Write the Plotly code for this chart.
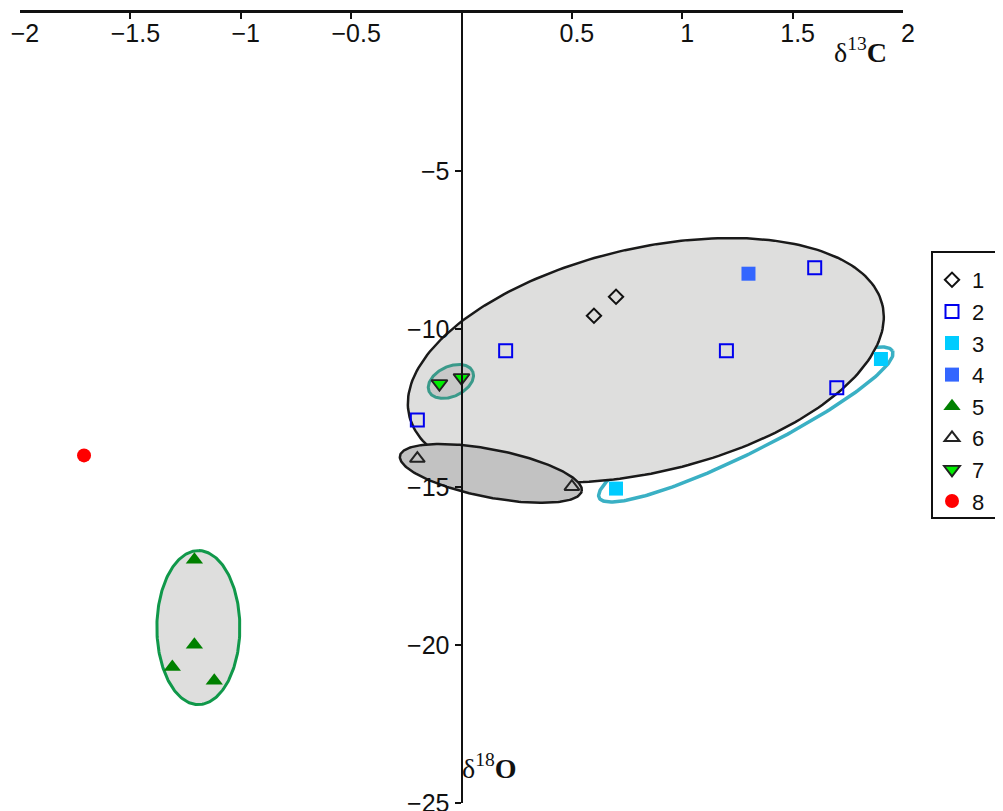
import numpy as np
import plotly.graph_objects as go

# ---- data (δ13C, δ18O) ----
s1_x = [0.60, 0.70]
s1_y = [-9.58, -8.98]
s2_x = [0.20, -0.20, 1.20, 1.60, 1.70]
s2_y = [-10.69, -12.88, -10.69, -8.06, -11.86]
s3_x = [1.90, 0.70]
s3_y = [-10.95, -15.05]
s4_x = [1.30]
s4_y = [-8.25]
s5_x = [-1.21, -1.21, -1.31, -1.12]
s5_y = [-17.30, -19.99, -20.70, -21.13]
s6_x = [-0.20, 0.50]
s6_y = [-14.10, -14.99]
s7_x = [-0.10, 0.00]
s7_y = [-11.73, -11.54]
s8_x = [-1.71]
s8_y = [-14.00]

x_ticks = [-2, -1.5, -1, -0.5, 0.5, 1, 1.5, 2]
y_ticks = [-5, -10, -15, -20, -25]

# ellipse groups: centre (data), semi-axes (screen px), rotation (deg); drawn in order
ell_cx = [1.288, 0.835, 0.133, -0.048, -1.192]
ell_cy = [-13.02, -10.99, -14.57, -11.66, -19.45]
ell_a = [164, 243, 92.6, 24, 77]
ell_b = [28, 112, 24, 15, 41.5]
ell_ang = [26.6, 13.15, -11.0, 25.0, 90.0]
ell_fill = ["rgba(0,0,0,0)", "#dededd", "#c2c2c2", "#c8c8c8", "#dededd"]
ell_line = ["#3ab0c4", "#1a1a1a", "#1a1a1a", "#3a9a8a", "#10984a"]
ell_lw = [3.5, 2.5, 2.5, 3, 3]

W, H = 1003, 811
OFF = 8  # page body offset
ml, mt = 20 - OFF, 13 - OFF
pw, ph = 883, 790
mr, mb = W - ml - pw, H - mt - ph
sx = pw / 4.0
sy = ph / 25.0


def px2paper_x(px):
    return (px - OFF - ml) / pw


def px2paper_y(py):
    return 1 - (py - OFF - mt) / ph


fig = go.Figure()

t = np.linspace(0, 2 * np.pi, 240)
for cx, cy, a, b, ang, fc, lc, lw in zip(ell_cx, ell_cy, ell_a, ell_b, ell_ang,
                                         ell_fill, ell_line, ell_lw):
    th = np.deg2rad(ang)
    u = a * np.cos(t) * np.cos(th) - b * np.sin(t) * np.sin(th)
    v = a * np.cos(t) * np.sin(th) + b * np.sin(t) * np.cos(th)
    fig.add_trace(go.Scatter(
        x=cx + u / sx, y=cy + v / sy, mode="lines",
        fill="toself" if fc != "rgba(0,0,0,0)" else None,
        fillcolor=fc, line=dict(color=lc, width=lw),
        showlegend=False, hoverinfo="skip"))

series = [
    ("1", s1_x, s1_y, dict(symbol="diamond-open", size=11, color="#111111", line=dict(width=2, color="#111111"))),
    ("2", s2_x, s2_y, dict(symbol="square-open", size=13, color="#0000ee", line=dict(width=2, color="#0000ee"))),
    ("3", s3_x, s3_y, dict(symbol="square", size=14, color="#00ccff")),
    ("4", s4_x, s4_y, dict(symbol="square", size=14, color="#3366ff")),
    ("5", s5_x, s5_y, dict(symbol="triangle-up", size=15, color="#008000")),
    ("6", s6_x, s6_y, dict(symbol="triangle-up-open", size=13, color="#222222", line=dict(width=2, color="#222222"))),
    ("7", s7_x, s7_y, dict(symbol="triangle-down", size=14, color="#00ee00", line=dict(width=1.8, color="#222222"))),
    ("8", s8_x, s8_y, dict(symbol="circle", size=14, color="#ff0000")),
]
for name, xs, ys, mk in series:
    fig.add_trace(go.Scatter(x=xs, y=ys, mode="markers", name=name, marker=mk))


def fmt(v):
    s = ("%g" % abs(v))
    return ("\u2212" + s) if v < 0 else s


tickfont = dict(family="Liberation Sans, Arial", size=25, color="#111111")
fig.update_layout(
    width=W, height=H,
    margin=dict(l=ml, r=mr, t=mt, b=mb, autoexpand=False),
    paper_bgcolor="white", plot_bgcolor="white",
    xaxis=dict(range=[-2, 2], side="top", showgrid=False, zeroline=False,
               showline=True, linecolor="#111111", linewidth=2.5,
               ticks="inside", ticklen=6, tickwidth=1.5, tickcolor="#111111",
               ticklabelposition="inside", ticklabeloverflow="allow",
               ticklabelstandoff=8, ticklabelshift=5,
               tickvals=x_ticks, ticktext=[fmt(v) for v in x_ticks],
               tickfont=tickfont, automargin=False),
    yaxis=dict(range=[-25, 0], anchor="free", position=0.5, showgrid=False,
               zeroline=False, showline=True, linecolor="#111111", linewidth=2,
               ticks="outside", ticklen=6, tickwidth=1.5, tickcolor="#111111",
               tickvals=y_ticks, ticktext=[fmt(v) for v in y_ticks],
               tickfont=tickfont, automargin=False),
    legend=dict(x=px2paper_x(932), y=px2paper_y(259), xanchor="left", yanchor="top",
                borderwidth=0, bgcolor="rgba(0,0,0,0)",
                font=dict(family="Liberation Sans, Arial", size=22, color="#111111"),
                itemwidth=30, tracegroupgap=0),
    shapes=[
        dict(type="rect", xref="paper", yref="paper",
             x0=px2paper_x(932), x1=px2paper_x(1012),
             y0=px2paper_y(518), y1=px2paper_y(252),
             line=dict(color="#111111", width=2), fillcolor="rgba(0,0,0,0)", layer="above"),
    ],
    annotations=[
        dict(text="δ<sup>13</sup><b>C</b>", x=px2paper_x(860), y=px2paper_y(50),
             xref="paper", yref="paper", showarrow=False, xanchor="center", yanchor="middle",
             font=dict(family="Liberation Serif, Times New Roman", size=28, color="#111111")),
        dict(text="δ<sup>18</sup><b>O</b>", x=px2paper_x(490), y=px2paper_y(766),
             xref="paper", yref="paper", showarrow=False, xanchor="center", yanchor="middle",
             font=dict(family="Liberation Serif, Times New Roman", size=28, color="#111111")),
    ],
)

fig.write_html("out.html")
